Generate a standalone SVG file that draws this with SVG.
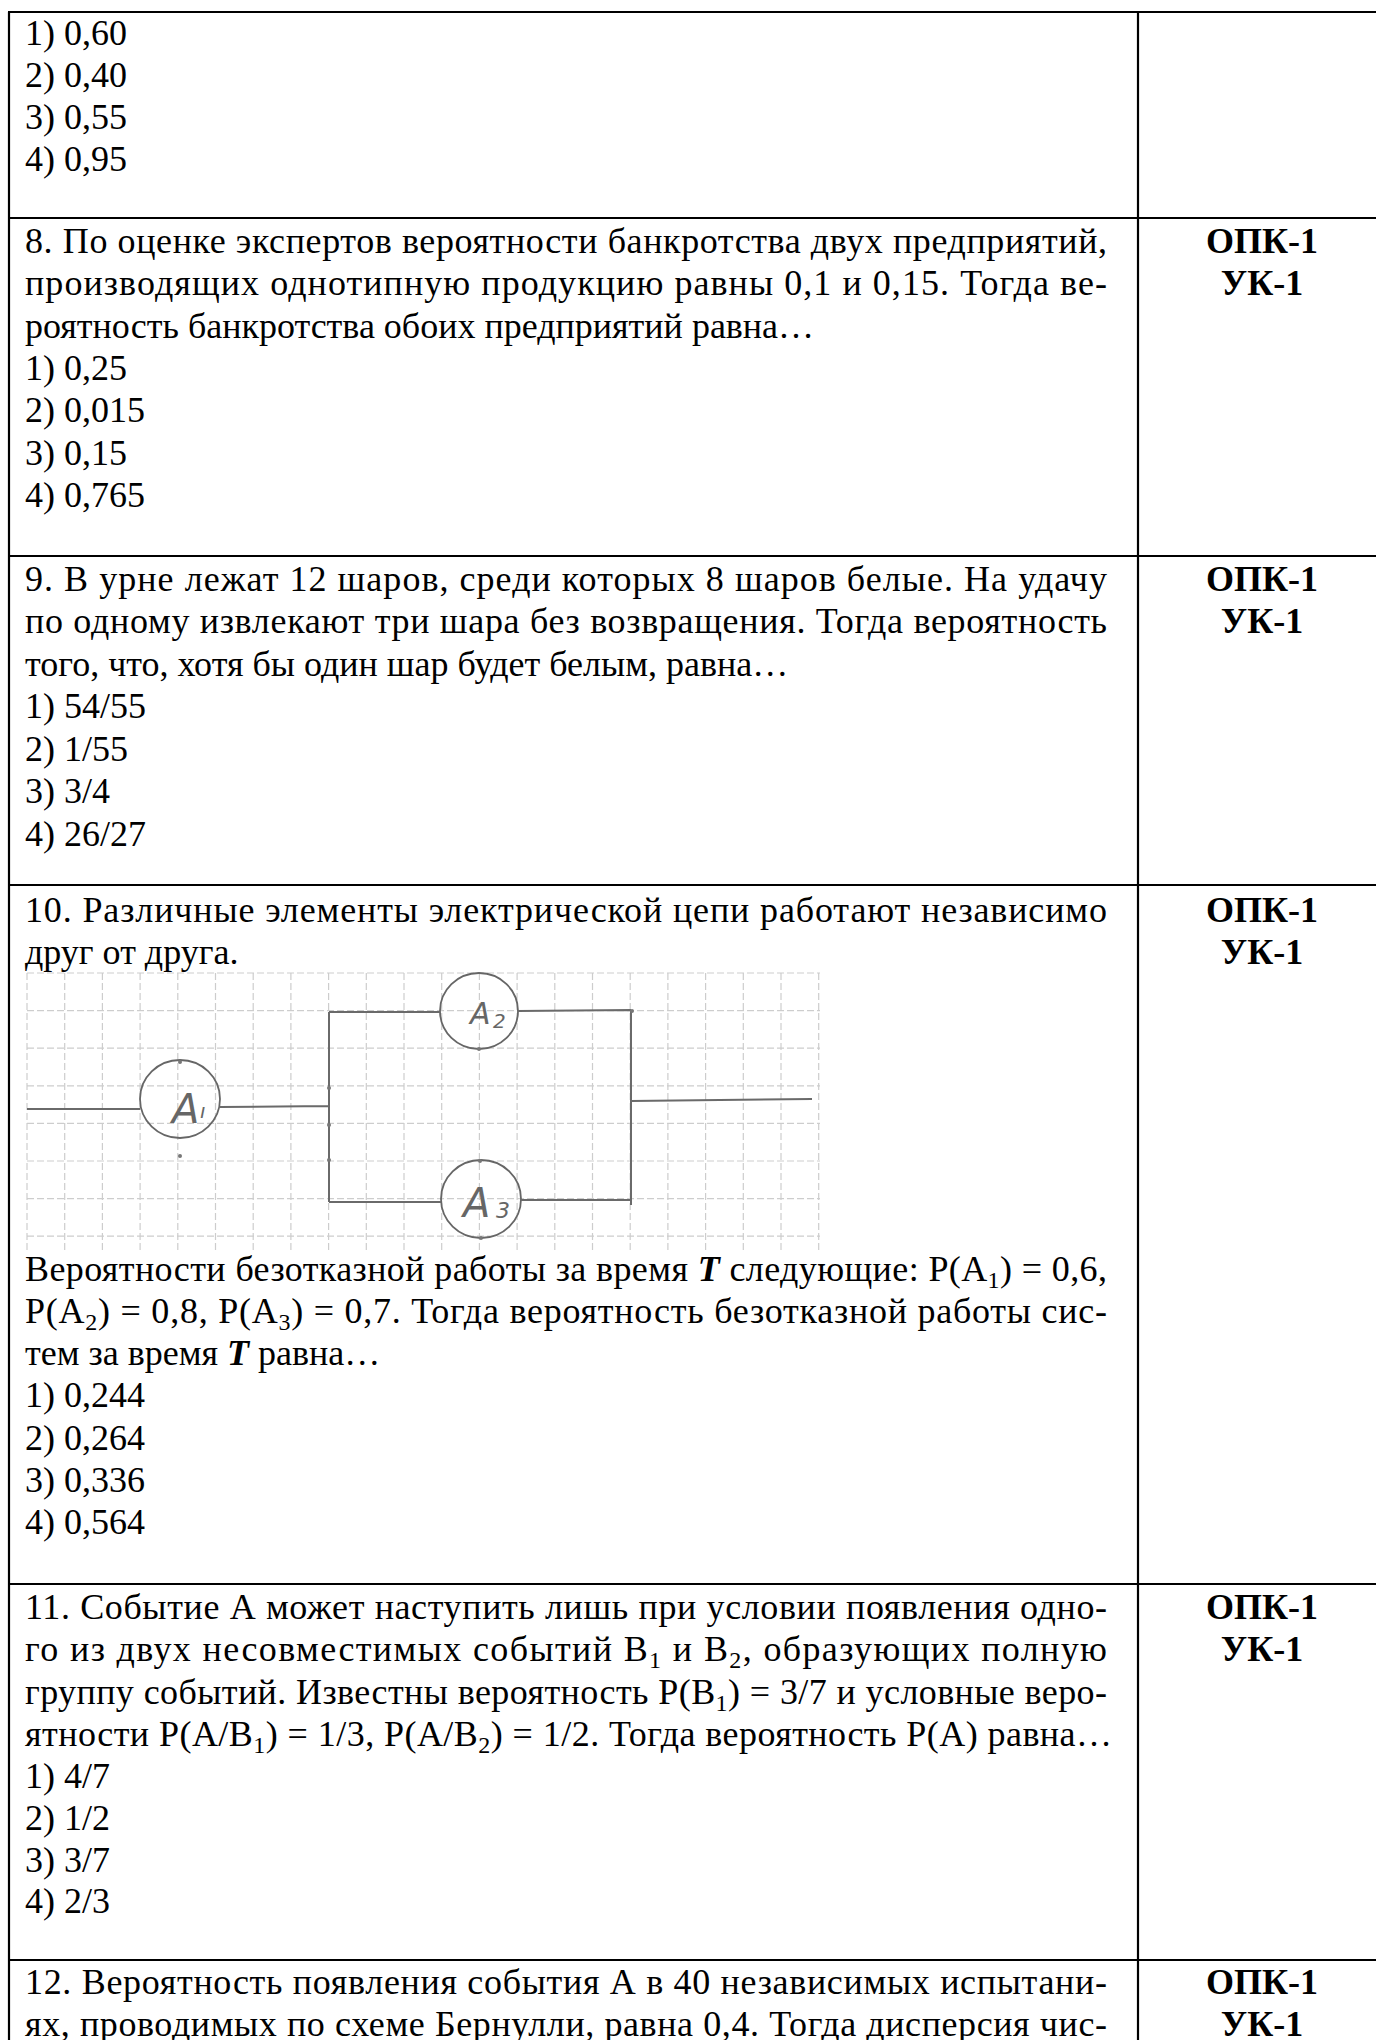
<svg xmlns="http://www.w3.org/2000/svg" width="1376" height="2040" viewBox="0 0 1376 2040">
<style>
.t{font-family:"Liberation Serif","Times New Roman",serif;font-size:36px;fill:#000}
.b{font-weight:bold;text-anchor:middle}
.s{font-size:24px}
.i{font-style:italic;font-weight:bold}
.rule{stroke:#000;stroke-width:2.2;fill:none}
.grid{stroke:#cdcdcd;stroke-width:1.2;fill:none;stroke-dasharray:7 3}
.wire{stroke:#6a6a6a;stroke-width:2;fill:none}
.el{stroke:#666;stroke-width:1.8;fill:none}
.lab{font-family:"DejaVu Sans",sans-serif;fill:#666;font-style:oblique;font-weight:300}
.dot{fill:#777}
</style>
<rect width="1376" height="2040" fill="#fff"/>
<g id="table">
<path class="rule" d="M9 12V2040M1138 12V2040M8 12H1376M8 218H1376M8 556H1376M8 885H1376M8 1584H1376M8 1960H1376"/>
</g>
<g id="row7" class="t">
<text x="25" y="45">1) 0,60</text>
<text x="25" y="87">2) 0,40</text>
<text x="25" y="129">3) 0,55</text>
<text x="25" y="171">4) 0,95</text>
</g>
<g id="row8" class="t">
<text x="25" y="253" textLength="1082" lengthAdjust="spacing">8. По оценке экспертов вероятности банкротства двух предприятий,</text>
<text x="25" y="295" textLength="1082" lengthAdjust="spacing">производящих однотипную продукцию равны 0,1 и 0,15. Тогда ве-</text>
<text x="25" y="338">роятность банкротства обоих предприятий равна…</text>
<text x="25" y="380">1) 0,25</text>
<text x="25" y="422">2) 0,015</text>
<text x="25" y="465">3) 0,15</text>
<text x="25" y="507">4) 0,765</text>
<text class="t b" x="1262" y="253">ОПК-1</text>
<text class="t b" x="1262" y="295">УК-1</text>
</g>
<g id="row9" class="t">
<text x="25" y="591" textLength="1082" lengthAdjust="spacing">9. В урне лежат 12 шаров, среди которых 8 шаров белые. На удачу</text>
<text x="25" y="633" textLength="1082" lengthAdjust="spacing">по одному извлекают три шара без возвращения. Тогда вероятность</text>
<text x="25" y="676">того, что, хотя бы один шар будет белым, равна…</text>
<text x="25" y="718">1) 54/55</text>
<text x="25" y="761">2) 1/55</text>
<text x="25" y="803">3) 3/4</text>
<text x="25" y="846">4) 26/27</text>
<text class="t b" x="1262" y="591">ОПК-1</text>
<text class="t b" x="1262" y="633">УК-1</text>
</g>
<g id="row10" class="t">
<text x="25" y="922" textLength="1082" lengthAdjust="spacing">10. Различные элементы электрической цепи работают независимо</text>
<text x="25" y="964">друг от друга.</text>
<text x="25" y="1281" textLength="1082" lengthAdjust="spacing">Вероятности безотказной работы за время <tspan class="i">T</tspan> следующие: P(A<tspan class="s" dy="7">1</tspan><tspan dy="-7">) = 0,6,</tspan></text>
<text x="25" y="1323" textLength="1082" lengthAdjust="spacing">P(A<tspan class="s" dy="7">2</tspan><tspan dy="-7">) = 0,8, P(A</tspan><tspan class="s" dy="7">3</tspan><tspan dy="-7">) = 0,7. Тогда вероятность безотказной работы сис-</tspan></text>
<text x="25" y="1365">тем за время <tspan class="i">T</tspan> равна…</text>
<text x="25" y="1407">1) 0,244</text>
<text x="25" y="1450">2) 0,264</text>
<text x="25" y="1492">3) 0,336</text>
<text x="25" y="1534">4) 0,564</text>
<text class="t b" x="1262" y="922">ОПК-1</text>
<text class="t b" x="1262" y="964">УК-1</text>
</g>
<g id="diagram">
<path class="grid" d="M27 973V1250M64.7 973V1250M102.4 973V1250M140.1 973V1250M177.8 973V1250M215.5 973V1250M253.2 973V1250M290.9 973V1250M328.6 973V1250M366.3 973V1250M404 973V1250M441.7 973V1250M479.4 973V1250M517.1 973V1250M554.8 973V1250M592.5 973V1250M630.2 973V1250M667.9 973V1250M705.6 973V1250M743.3 973V1250M781 973V1250M818.7 973V1250M27 973H820M27 1010.6H820M27 1048.2H820M27 1085.8H820M27 1123.4H820M27 1161H820M27 1198.6H820M27 1236.2H820"/>
<g id="A1">
<ellipse class="el" cx="180" cy="1099" rx="40" ry="39"/>
<text class="lab" x="172" y="1123" font-size="40">A</text>
<text class="lab" x="200" y="1118" font-size="20">ı</text>
</g>
<g id="A2">
<ellipse class="el" cx="479" cy="1011" rx="39" ry="38"/>
<text class="lab" x="470" y="1024" font-size="30">A</text>
<text class="lab" x="493" y="1028" font-size="20">2</text>
</g>
<g id="A3">
<ellipse class="el" cx="481" cy="1199" rx="40" ry="39"/>
<text class="lab" x="463" y="1217" font-size="40">A</text>
<text class="lab" x="496" y="1218" font-size="22">3</text>
</g>
<g id="connectors">
<path class="wire" d="M27 1109H140M220 1107L329 1106M329 1012V1202M329 1012H440M518 1011L631 1010M329 1202H441M521 1200H631M631 1010V1205M631 1101L812 1099"/>
</g>
<circle class="dot" cx="180" cy="1062" r="2"/>
<circle class="dot" cx="180" cy="1156" r="2"/>
<circle class="dot" cx="479" cy="1049" r="2"/>
<circle class="dot" cx="480" cy="1161" r="2"/>
<circle class="dot" cx="481" cy="1238" r="2"/>
<circle class="dot" cx="329" cy="1088" r="2"/>
<circle class="dot" cx="329" cy="1125" r="2"/>
<circle class="dot" cx="329" cy="1160" r="2"/>
<circle class="dot" cx="632" cy="1011" r="2"/>
</g>
<g id="row11" class="t">
<text x="25" y="1619" textLength="1082" lengthAdjust="spacing">11. Событие А может наступить лишь при условии появления одно-</text>
<text x="25" y="1661" textLength="1082" lengthAdjust="spacing">го из двух несовместимых событий B<tspan class="s" dy="7">1</tspan><tspan dy="-7"> и B</tspan><tspan class="s" dy="7">2</tspan><tspan dy="-7">, образующих полную</tspan></text>
<text x="25" y="1704" textLength="1082" lengthAdjust="spacing">группу событий. Известны вероятность P(B<tspan class="s" dy="7">1</tspan><tspan dy="-7">) = 3/7 и условные веро-</tspan></text>
<text x="25" y="1746" textLength="1087" lengthAdjust="spacing">ятности P(A/B<tspan class="s" dy="7">1</tspan><tspan dy="-7">) = 1/3, P(A/B</tspan><tspan class="s" dy="7">2</tspan><tspan dy="-7">) = 1/2. Тогда вероятность P(A) равна…</tspan></text>
<text x="25" y="1788">1) 4/7</text>
<text x="25" y="1830">2) 1/2</text>
<text x="25" y="1872">3) 3/7</text>
<text x="25" y="1913">4) 2/3</text>
<text class="t b" x="1262" y="1619">ОПК-1</text>
<text class="t b" x="1262" y="1661">УК-1</text>
</g>
<g id="row12" class="t">
<text x="25" y="1994" textLength="1082" lengthAdjust="spacing">12. Вероятность появления события А в 40 независимых испытани-</text>
<text x="25" y="2036" textLength="1082" lengthAdjust="spacing">ях, проводимых по схеме Бернулли, равна 0,4. Тогда дисперсия чис-</text>
<text class="t b" x="1262" y="1994">ОПК-1</text>
<text class="t b" x="1262" y="2036">УК-1</text>
</g>
</svg>
